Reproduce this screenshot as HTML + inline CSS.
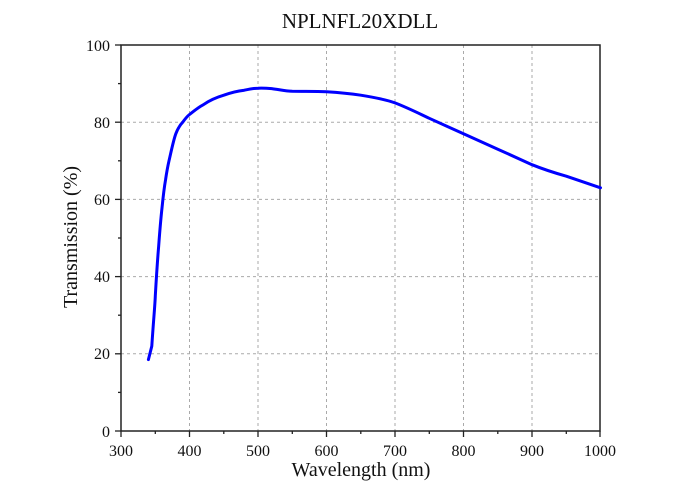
<!DOCTYPE html>
<html><head><style>body{margin:0;background:#fff}svg{display:block}text{font-family:"Liberation Serif",serif;fill:#111}</style></head>
<body>
<svg width="700" height="498" viewBox="0 0 700 498">
<text x="360" y="28" font-size="21" text-anchor="middle">NPLNFL20XDLL</text>
<g stroke="#aaa" stroke-width="1" stroke-dasharray="3,3">
<line x1="189.5" y1="45" x2="189.5" y2="431"/><line x1="258" y1="45" x2="258" y2="431"/><line x1="326.5" y1="45" x2="326.5" y2="431"/><line x1="395" y1="45" x2="395" y2="431"/><line x1="463.5" y1="45" x2="463.5" y2="431"/><line x1="532" y1="45" x2="532" y2="431"/>
<line x1="121" y1="122.2" x2="600" y2="122.2"/><line x1="121" y1="199.4" x2="600" y2="199.4"/><line x1="121" y1="276.6" x2="600" y2="276.6"/><line x1="121" y1="353.8" x2="600" y2="353.8"/>
</g>
<rect x="121" y="45" width="479" height="386" fill="none" stroke="#222" stroke-width="1.5"/>
<g stroke="#222" stroke-width="1.3">
<line x1="121" y1="431" x2="121" y2="437"/><line x1="189.5" y1="431" x2="189.5" y2="437"/><line x1="258" y1="431" x2="258" y2="437"/><line x1="326.5" y1="431" x2="326.5" y2="437"/><line x1="395" y1="431" x2="395" y2="437"/><line x1="463.5" y1="431" x2="463.5" y2="437"/><line x1="532" y1="431" x2="532" y2="437"/><line x1="600" y1="431" x2="600" y2="437"/>
<line x1="155.3" y1="431" x2="155.3" y2="434"/><line x1="223.8" y1="431" x2="223.8" y2="434"/><line x1="292.3" y1="431" x2="292.3" y2="434"/><line x1="360.8" y1="431" x2="360.8" y2="434"/><line x1="429.3" y1="431" x2="429.3" y2="434"/><line x1="497.8" y1="431" x2="497.8" y2="434"/><line x1="566.3" y1="431" x2="566.3" y2="434"/>
<line x1="115" y1="45" x2="121" y2="45"/><line x1="115" y1="122.2" x2="121" y2="122.2"/><line x1="115" y1="199.4" x2="121" y2="199.4"/><line x1="115" y1="276.6" x2="121" y2="276.6"/><line x1="115" y1="353.8" x2="121" y2="353.8"/><line x1="115" y1="431" x2="121" y2="431"/>
<line x1="118" y1="83.6" x2="121" y2="83.6"/><line x1="118" y1="160.8" x2="121" y2="160.8"/><line x1="118" y1="238" x2="121" y2="238"/><line x1="118" y1="315.2" x2="121" y2="315.2"/><line x1="118" y1="392.4" x2="121" y2="392.4"/>
</g>
<g font-size="16" text-anchor="middle">
<text x="121" y="456">300</text><text x="189.5" y="456">400</text><text x="258" y="456">500</text><text x="326.5" y="456">600</text><text x="395" y="456">700</text><text x="463.5" y="456">800</text><text x="532" y="456">900</text><text x="600" y="456">1000</text>
</g>
<g font-size="16" text-anchor="end">
<text x="110" y="51">100</text><text x="110" y="128">80</text><text x="110" y="205">60</text><text x="110" y="282">40</text><text x="110" y="359">20</text><text x="110" y="437">0</text>
</g>
<text x="361" y="476" font-size="20" text-anchor="middle">Wavelength (nm)</text>
<text transform="translate(77,237) rotate(-90)" font-size="20" text-anchor="middle">Transmission (%)</text>
<path d="M148.4,359.6 L151.8,346.1 C153.5,320 155,305 155.3,295.9 C156.5,275 157.5,260 158.7,245.7 C160,228 161,217 162.1,207.1 C163.3,195 164.3,187 165.5,180.1 C166.7,172 167.8,166 169,160.8 C171.5,150 173.5,140 175.8,133.8 C178,128 180,125 182.7,122.2 C185,119 187,116.5 189.5,114.5 C194,111 198,107.5 203.2,104.8 C210,100 216,97.5 223.8,95.2 C231,92.5 237,91 244.3,90.2 C250,89 254,88.2 258,88.2 C264,88 268,88.3 271.7,88.6 C279,89.5 285,91 292.3,91.3 C305,91.5 315,91.2 326.5,91.7 C340,92.5 350,93.5 360.8,95.2 C375,97.5 386,99.5 395,102.9 C407,107.5 418,113 429.3,118.3 L463.5,133.8 L497.8,149.2 L532,164.7 C545,170 555,173 566.3,176.2 L600.5,187.8" fill="none" stroke="#0000ff" stroke-width="3" stroke-linejoin="round" stroke-linecap="round"/>
</svg>
</body></html>
